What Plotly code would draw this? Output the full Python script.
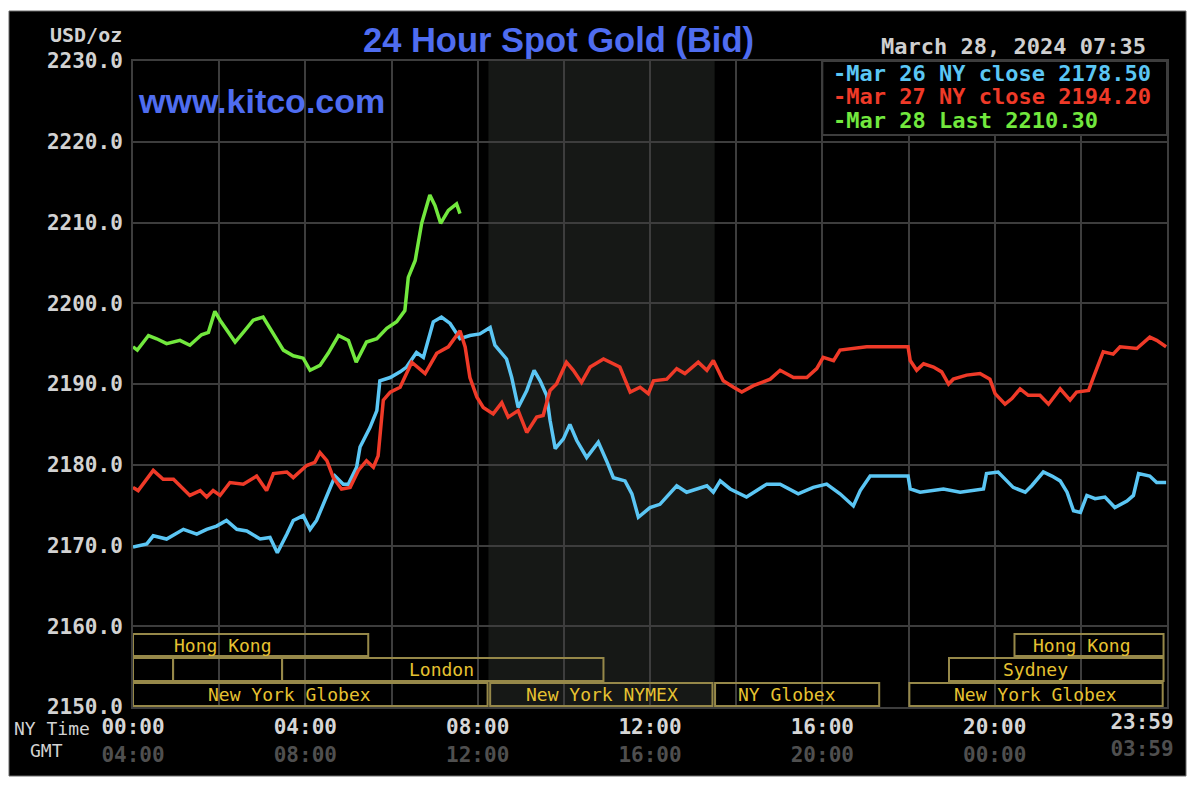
import plotly.graph_objects as go

# ---------------- data ----------------
mar26_t = [0.00, 0.32, 0.47, 0.78, 1.17, 1.48, 1.71, 1.94, 2.17, 2.41, 2.64, 2.95, 3.18, 3.35, 3.57, 3.72,
           3.95, 4.11, 4.26, 4.50, 4.69, 4.88, 5.00, 5.19, 5.27, 5.50, 5.66, 5.73, 5.97, 6.20, 6.35, 6.58,
           6.74, 6.97, 7.16, 7.36, 7.59, 7.82, 8.05, 8.29, 8.40, 8.67, 8.79, 8.94, 9.14, 9.31, 9.45, 9.60,
           9.68, 9.80, 9.99, 10.14, 10.30, 10.53, 10.80, 10.99, 11.15, 11.42, 11.58, 11.73, 12.00, 12.23,
           12.62, 12.85, 13.32, 13.47, 13.63, 13.86, 14.24, 14.71, 15.02, 15.44, 15.79, 16.10, 16.41, 16.72,
           16.88, 17.11, 17.99, 18.04, 18.27, 18.81, 19.20, 19.74, 19.81, 20.08, 20.24, 20.43, 20.71, 20.86,
           21.13, 21.33, 21.52, 21.68, 21.83, 21.99, 22.14, 22.33, 22.56, 22.79, 23.07, 23.22, 23.34, 23.60,
           23.76, 23.98]
mar26_v = [2169.8, 2170.2, 2171.2, 2170.8, 2172.0, 2171.4, 2172.0, 2172.4, 2173.1, 2172.0, 2171.8, 2170.8,
           2171.0, 2169.1, 2171.4, 2173.1, 2173.7, 2172.0, 2173.1, 2176.2, 2178.6, 2177.6, 2177.6, 2179.7,
           2182.2, 2184.6, 2186.7, 2190.4, 2190.8, 2191.5, 2192.1, 2193.9, 2193.3, 2197.7, 2198.3, 2197.5,
           2195.6, 2196.0, 2196.2, 2197.0, 2194.8, 2193.1, 2190.8, 2187.1, 2189.2, 2191.7, 2190.4, 2188.6,
           2185.5, 2182.0, 2183.2, 2185.0, 2183.0, 2180.9, 2182.8, 2180.5, 2178.4, 2178.0, 2176.4, 2173.5,
           2174.7, 2175.1, 2177.4, 2176.6, 2177.4, 2176.6, 2178.0, 2177.0, 2176.0, 2177.6, 2177.6, 2176.4,
           2177.2, 2177.6, 2176.4, 2174.9, 2176.8, 2178.6, 2178.6, 2177.0, 2176.6, 2177.0, 2176.6, 2177.0,
           2178.9, 2179.1, 2178.2, 2177.2, 2176.6, 2177.4, 2179.1, 2178.6, 2178.0, 2176.6, 2174.3, 2174.1,
           2176.2, 2175.8, 2176.0, 2174.7, 2175.5, 2176.2, 2178.9, 2178.6, 2177.8, 2177.8]

mar27_t = [0.00, 0.12, 0.47, 0.70, 0.94, 1.32, 1.56, 1.71, 1.86, 2.02, 2.25, 2.56, 2.87, 3.10, 3.26, 3.57,
           3.72, 4.03, 4.22, 4.34, 4.50, 4.65, 4.84, 5.04, 5.23, 5.42, 5.58, 5.69, 5.81, 5.97, 6.20, 6.47,
           6.78, 7.05, 7.32, 7.59, 7.71, 7.82, 7.98, 8.13, 8.36, 8.56, 8.71, 8.94, 9.14, 9.37, 9.52, 9.68,
           9.83, 10.06, 10.22, 10.41, 10.61, 10.92, 11.30, 11.54, 11.77, 11.96, 12.08, 12.39, 12.62, 12.81,
           13.12, 13.32, 13.47, 13.70, 13.94, 14.13, 14.40, 14.79, 15.02, 15.33, 15.64, 15.87, 16.02, 16.26,
           16.41, 16.72, 17.03, 17.99, 18.04, 18.19, 18.35, 18.58, 18.77, 18.93, 19.04, 19.35, 19.66, 19.89,
           20.01, 20.24, 20.40, 20.59, 20.78, 21.05, 21.25, 21.52, 21.75, 21.90, 22.18, 22.29, 22.52, 22.75,
           22.91, 23.30, 23.60, 23.76, 23.98]
mar27_v = [2177.2, 2176.8, 2179.3, 2178.2, 2178.2, 2176.2, 2176.8, 2176.0, 2176.8, 2176.2, 2177.8, 2177.6,
           2178.6, 2176.8, 2178.9, 2179.1, 2178.4, 2179.9, 2180.3, 2181.5, 2180.5, 2178.4, 2177.0, 2177.2,
           2179.3, 2180.5, 2179.7, 2181.1, 2188.0, 2189.0, 2189.6, 2192.7, 2191.3, 2193.8, 2194.6, 2196.6,
           2194.6, 2190.8, 2188.4, 2187.1, 2186.3, 2187.7, 2185.9, 2186.7, 2184.0, 2185.9, 2186.1, 2189.2,
           2190.0, 2192.7, 2191.7, 2190.2, 2192.1, 2193.1, 2192.1, 2189.0, 2189.6, 2188.8, 2190.4, 2190.6,
           2191.9, 2191.3, 2192.7, 2191.7, 2192.9, 2190.4, 2189.6, 2189.0, 2189.8, 2190.6, 2191.7, 2190.8,
           2190.8, 2191.9, 2193.3, 2192.9, 2194.2, 2194.4, 2194.6, 2194.6, 2192.9, 2191.7, 2192.5, 2192.1,
           2191.5, 2190.0, 2190.6, 2191.1, 2191.3, 2190.6, 2188.8, 2187.5, 2188.2, 2189.4, 2188.6, 2188.6,
           2187.5, 2189.4, 2188.0, 2189.0, 2189.2, 2190.8, 2194.0, 2193.7, 2194.6, 2194.4, 2195.8, 2195.4,
           2194.6]

mar28_t = [0.00, 0.10, 0.36, 0.55, 0.78, 1.09, 1.32, 1.59, 1.75, 1.90, 2.02, 2.37, 2.56, 2.79, 3.02, 3.26,
           3.49, 3.72, 3.95, 4.11, 4.34, 4.53, 4.77, 5.00, 5.18, 5.42, 5.66, 5.89, 6.12, 6.31, 6.39, 6.55,
           6.70, 6.89, 7.01, 7.14, 7.32, 7.51, 7.59]
mar28_v = [2194.6, 2194.2, 2196.0, 2195.6, 2195.0, 2195.4, 2194.8, 2196.1, 2196.4, 2199.0, 2197.9, 2195.2,
           2196.4, 2197.9, 2198.3, 2196.3, 2194.2, 2193.5, 2193.2, 2191.7, 2192.3, 2193.8, 2196.0, 2195.4,
           2192.7, 2195.2, 2195.6, 2196.9, 2197.7, 2199.1, 2203.2, 2205.3, 2209.9, 2213.4, 2212.1, 2209.9,
           2211.5, 2212.3, 2211.1]

series_labels = ["Mar 26 NY close 2178.50", "Mar 27 NY close 2194.20", "Mar 28 Last 2210.30"]
series_colors = ["#5bc6f4", "#ef3a28", "#72e83e"]

y_ticks = [2150, 2160, 2170, 2180, 2190, 2200, 2210, 2220, 2230]
x_grid = [0, 2, 4, 6, 8, 10, 12, 14, 16, 18, 20, 22, 24]
x_ticks = [0, 4, 8, 12, 16, 20]
ny_labels = ["00:00", "04:00", "08:00", "12:00", "16:00", "20:00"]
gmt_labels = ["04:00", "08:00", "12:00", "16:00", "20:00", "00:00"]
end_tick = 23.42
end_ny_label, end_gmt_label = "23:59", "03:59"

session_names = ["Hong Kong", "", "", "London", "New York Globex", "New York NYMEX", "NY Globex",
                 "Hong Kong", "Sydney", "New York Globex"]
session_start = [0.0, 0.0, 0.93, 3.46, 0.0, 8.29, 13.51, 20.46, 18.94, 18.02]
session_end = [5.46, 0.93, 3.46, 10.92, 8.23, 13.45, 17.32, 23.92, 23.92, 23.90]
session_row = [0, 1, 1, 1, 2, 2, 2, 0, 1, 2]
session_label_x = [2.10, 0, 0, 7.15, 3.63, 10.89, 15.17, 22.03, 20.94, 20.94]

comex_start, comex_end = 8.25, 13.5

# ---------------- layout geometry ----------------
W, H = 1200, 793
L, R, T, B = 133, 33, 61, 86
PW, PH = W - L - R, H - T - B
YMIN, YMAX = 2150, 2230


def px(x):
    return (x - L) / PW


def py(y):
    return (H - B - y) / PH


def val(ypix):
    return YMAX - (ypix - T) * (YMAX - YMIN) / PH


MONO = "DejaVu Sans Mono"
GRID = "#3d3d3d"
GOLD_LINE = "#968849"
GOLD_TEXT = "#e6c231"
BLUE_T = "#4f6df0"
GMT_COL = "#4f4f4f"


def two_line(a, b):
    return f"{a}<br><span style='color:{GMT_COL}'>{b}</span>"


fig = go.Figure()
for t, v, c, n in zip([mar26_t, mar27_t, mar28_t], [mar26_v, mar27_v, mar28_v], series_colors, series_labels):
    fig.add_trace(go.Scatter(x=t, y=v, mode="lines", line=dict(color=c, width=3.5), name=n,
                             hoverinfo="skip"))
# helper trace so the secondary x axis (end-of-day label) is drawn
fig.add_trace(go.Scatter(x=[None], y=[None], xaxis="x2", mode="lines", showlegend=False, hoverinfo="skip"))

shapes = []
shapes.append(dict(type="rect", xref="paper", yref="paper", x0=px(9), x1=px(1186), y0=py(776), y1=py(11),
                   fillcolor="#000000", line=dict(color="#6a6a6a", width=1), layer="below"))
shapes.append(dict(type="rect", xref="x", yref="paper", x0=comex_start, x1=comex_end, y0=0, y1=1,
                   fillcolor="#161816", line=dict(width=0), layer="below"))
rows_pix = [(634, 656), (658, 681), (683, 706)]
annotations = []
for name, s, e, r, lx in zip(session_names, session_start, session_end, session_row, session_label_x):
    top, bot = rows_pix[r]
    shapes.append(dict(type="rect", xref="x", yref="y", x0=s, x1=e, y0=val(bot), y1=val(top),
                       line=dict(color=GOLD_LINE, width=2), fillcolor="rgba(0,0,0,0)", layer="above"))
    if name:
        annotations.append(dict(x=lx, y=val((top + bot) / 2), xref="x", yref="y", text=name,
                                showarrow=False, xanchor="center", yanchor="middle",
                                font=dict(family=MONO, size=18, color=GOLD_TEXT)))
shapes.append(dict(type="rect", xref="x", yref="y", x0=16.0, x1=24, y0=val(135), y1=YMAX,
                   fillcolor="#000000", line=dict(color=GRID, width=2), layer="above"))
for i, (lab, c) in enumerate(zip(series_labels, series_colors)):
    annotations.append(dict(x=px(831), y=py(73 + 24 * i), xref="paper", yref="paper", text="-" + lab,
                            showarrow=False, xanchor="left", yanchor="middle",
                            font=dict(family=MONO, size=22, color=c, weight="bold")))

annotations += [
    dict(x=px(558), y=py(40), xref="paper", yref="paper", text="24 Hour Spot Gold (Bid)", showarrow=False,
         xanchor="center", yanchor="middle", font=dict(family="Liberation Sans", size=34.5, color=BLUE_T,
                                                       weight="bold")),
    dict(x=px(136), y=py(101), xref="paper", yref="paper", text="www.kitco.com", showarrow=False,
         xanchor="left", yanchor="middle", font=dict(family="Liberation Sans", size=34, color=BLUE_T,
                                                     weight="bold")),
    dict(x=px(124), y=py(35), xref="paper", yref="paper", text="USD/oz", showarrow=False,
         xanchor="right", yanchor="middle", font=dict(family=MONO, size=20, color="#d2d2d2", weight="bold")),
    dict(x=px(1148), y=py(47), xref="paper", yref="paper", text="March 28, 2024 07:35", showarrow=False,
         xanchor="right", yanchor="middle", font=dict(family=MONO, size=22, color="#cfcfcf", weight="bold")),
    dict(x=px(12), y=py(728), xref="paper", yref="paper", text="NY Time", showarrow=False,
         xanchor="left", yanchor="middle", font=dict(family=MONO, size=18, color="#d2d2d2")),
    dict(x=px(28), y=py(751), xref="paper", yref="paper", text="GMT", showarrow=False,
         xanchor="left", yanchor="middle", font=dict(family=MONO, size=18, color="#d2d2d2")),
]

tickfont = dict(family=MONO, size=21, color="#d6d6d6", weight="bold")

fig.update_layout(
    width=W, height=H, margin=dict(l=L, r=R, t=T, b=B, pad=0, autoexpand=False),
    paper_bgcolor="#ffffff", plot_bgcolor="#000000", showlegend=False,
    shapes=shapes, annotations=annotations,
    xaxis=dict(range=[0, 24], tickvals=x_ticks,
               ticktext=[two_line(a, b) for a, b in zip(ny_labels, gmt_labels)],
               showgrid=False, zeroline=False, showline=True, mirror=True, linecolor=GRID, linewidth=2,
               ticks="", tickfont=tickfont, fixedrange=True, automargin=False,
               minor=dict(tickvals=x_grid, showgrid=True, gridcolor=GRID, gridwidth=2, ticks="")),
    xaxis2=dict(range=[0, 24], overlaying="x", side="bottom", anchor="y", tickvals=[end_tick],
                ticktext=[two_line(end_ny_label, end_gmt_label)], showgrid=False, zeroline=False,
                showline=False, ticks="", tickfont=tickfont, fixedrange=True, automargin=False),
    yaxis=dict(range=[YMIN, YMAX], tickvals=y_ticks, tickformat=".1f", showgrid=True, gridcolor=GRID,
               gridwidth=2, zeroline=False, showline=True, mirror=True, linecolor=GRID, linewidth=2,
               ticks="", ticklabelstandoff=4, automargin=False,
               tickfont=dict(family=MONO, size=21, color="#d2d2d2", weight="bold"), fixedrange=True),
)

fig.write_html("out.html")
